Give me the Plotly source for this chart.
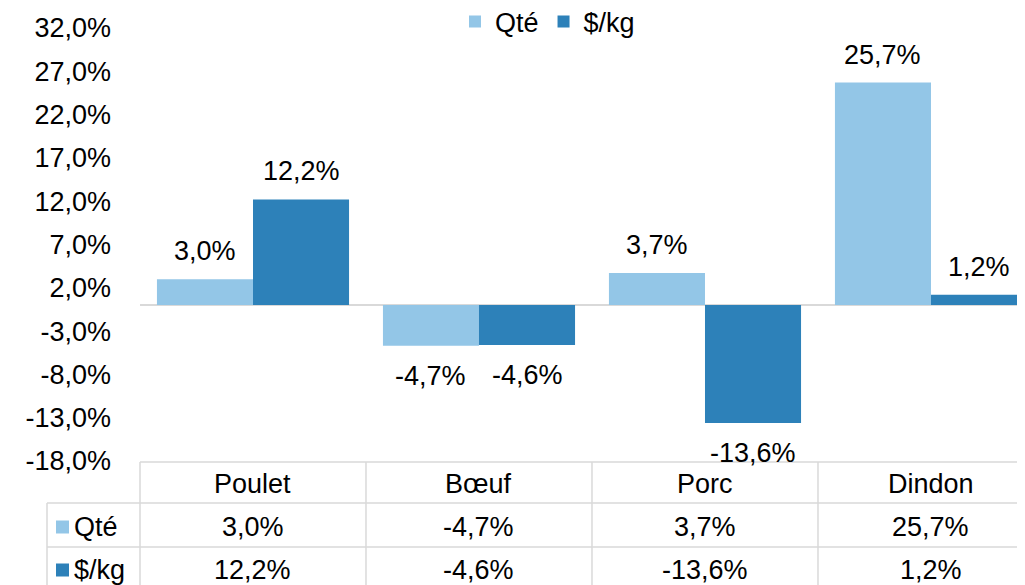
import plotly.graph_objects as go

categories = ["Poulet", "Bœuf", "Porc", "Dindon"]
series_names = ["Qté", "$/kg"]
qte = [3.0, -4.7, 3.7, 25.7]
prix = [12.2, -4.6, -13.6, 1.2]
tick_vals = [-18, -13, -8, -3, 2, 7, 12, 17, 22, 27, 32]
colors = ["#93C6E7", "#2D81B9"]

FONT = "Liberation Sans, Arial, sans-serif"
FS = 27
GRID = "#d9d9d9"


def fmt(v):
    return f"{v:.1f}%".replace(".", ",")


OFF = 8  # page body margin
W, H = 1025 - OFF, 585 - OFF
ML, MR, MT, MB = 140 - OFF, 0, 28 - OFF, 124
XMIN, XMAX = -0.5, 3.416
YMIN, YMAX = -18, 32
BARGAP = 0.15

fig = go.Figure()
for name, vals, col in zip(series_names, [qte, prix], colors):
    fig.add_trace(go.Bar(
        x=list(range(len(categories))), y=vals, name=name,
        marker=dict(color=col, line=dict(width=0)),
    ))

# data labels
half = (1 - BARGAP) / 4
for k, vals in enumerate([qte, prix]):
    off = -half if k == 0 else half
    for i, v in enumerate(vals):
        fig.add_annotation(
            x=i + off, y=v, xref="x", yref="y", text=fmt(v), showarrow=False,
            yshift=28 if v >= 0 else -30, yanchor="middle", xanchor="center",
            font=dict(family=FONT, size=FS, color="#000000"),
        )

plot_h = H - MT - MB
plot_w = W - ML - MR


def px_x(v):
    return (v - XMIN) / (XMAX - XMIN)


def py(pxv):
    # page pixel -> paper y
    return (H - MB - (pxv - OFF)) / plot_h


def pxx(pxv):
    # page pixel -> paper x
    return (pxv - OFF - ML) / plot_w


row_top = py(462)
row1 = py(503)
row2 = py(547)
row_bot = py(600)
right = pxx(1040)
left_hdr = pxx(47)

line = dict(color=GRID, width=1.5)
shapes = [
    dict(type="line", xref="paper", yref="paper", x0=0, x1=right, y0=row_top, y1=row_top, line=line),
    dict(type="line", xref="paper", yref="paper", x0=left_hdr, x1=right, y0=row1, y1=row1, line=line),
    dict(type="line", xref="paper", yref="paper", x0=left_hdr, x1=right, y0=row2, y1=row2, line=line),
    dict(type="line", xref="paper", yref="paper", x0=left_hdr, x1=left_hdr, y0=row1, y1=row_bot, line=line),
]
for b in range(len(categories)):
    xb = px_x(b - 0.5)
    shapes.append(dict(type="line", xref="paper", yref="paper", x0=xb, x1=xb,
                       y0=row_top, y1=row_bot, line=line))

row_centers = [py(527), py(570)]
for i, c in enumerate(categories):
    xc = px_x(i)
    fig.add_annotation(x=xc, y=py(484), xref="paper", yref="paper",
                       text=c, showarrow=False, xanchor="center", yanchor="middle",
                       font=dict(family=FONT, size=FS, color="#000000"))
    for r, vals in enumerate([qte, prix]):
        fig.add_annotation(x=xc, y=row_centers[r], xref="paper", yref="paper",
                           text=fmt(vals[i]), showarrow=False,
                           xanchor="center", yanchor="middle",
                           font=dict(family=FONT, size=FS, color="#000000"))

for r, (name, col) in enumerate(zip(series_names, colors)):
    yc = row_centers[r]
    shapes.append(dict(type="rect", xref="paper", yref="paper",
                       x0=pxx(56), x1=pxx(69), y0=yc - 6.5 / plot_h, y1=yc + 6.5 / plot_h,
                       fillcolor=col, line=dict(width=0)))
    fig.add_annotation(x=pxx(72), y=yc, xref="paper", yref="paper", text=name,
                       showarrow=False, xanchor="left", yanchor="middle",
                       font=dict(family=FONT, size=FS, color="#000000"))

fig.update_layout(
    width=W, height=H,
    margin=dict(l=ML, r=MR, t=MT, b=MB, autoexpand=False),
    paper_bgcolor="white", plot_bgcolor="white",
    barmode="group", bargap=BARGAP, bargroupgap=0,
    font=dict(family=FONT, size=FS, color="#000000"),
    shapes=shapes,
    showlegend=True,
    legend=dict(orientation="h", x=pxx(455), xanchor="left", y=py(22), yanchor="middle",
                font=dict(family=FONT, size=FS, color="#000000"),
                itemwidth=30, traceorder="normal", bgcolor="rgba(0,0,0,0)"),
    xaxis=dict(range=[XMIN, XMAX], showticklabels=False, showgrid=False,
               zeroline=False, showline=False, ticks="", automargin=False),
    yaxis=dict(range=[YMIN, YMAX], tickvals=tick_vals,
               ticktext=[fmt(v) for v in tick_vals], showgrid=False,
               zeroline=True, zerolinecolor=GRID, zerolinewidth=2,
               showline=False, ticks="", ticklabelstandoff=28, automargin=False,
               tickfont=dict(family=FONT, size=FS, color="#000000")),
)

fig.write_html("out.html")
